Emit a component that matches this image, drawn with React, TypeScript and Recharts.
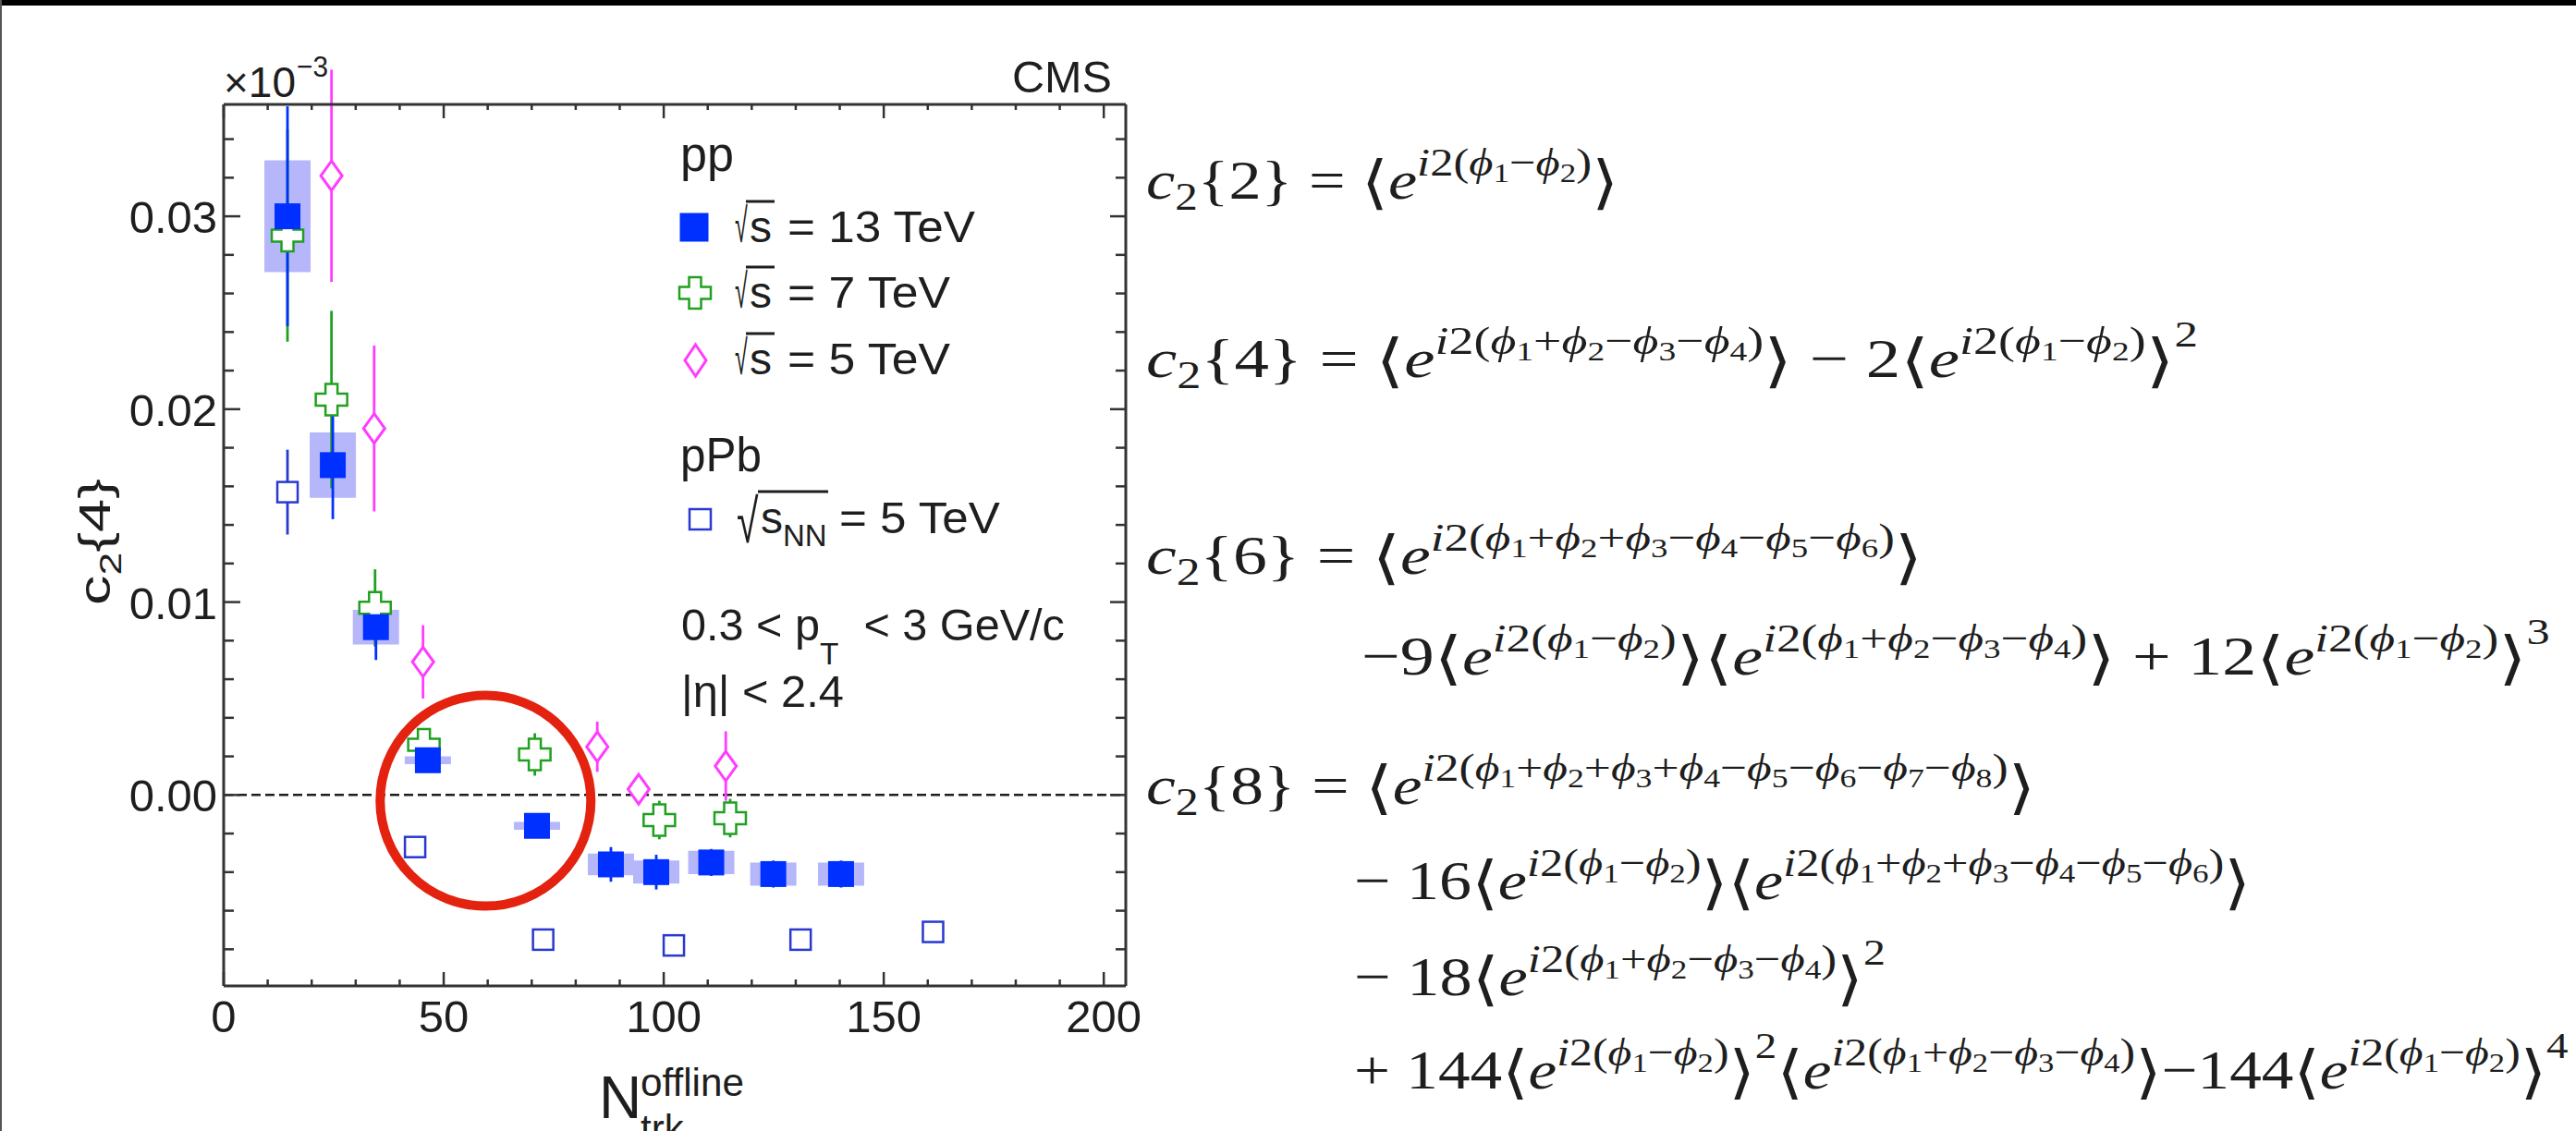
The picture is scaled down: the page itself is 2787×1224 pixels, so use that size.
import { useLayoutEffect, useRef, useState } from "react";
import type { ReactNode } from "react";
import {
  ErrorBar,
  ReferenceArea,
  ReferenceDot,
  ReferenceLine,
  Scatter,
  ScatterChart,
  XAxis,
  YAxis,
} from "recharts";

// pp, sqrt(s) = 13 TeV: filled squares, statistical bars and systematic boxes
const pp13X = [14.5, 24.8, 34.6, 46.4, 71.2, 88.0, 98.3, 110.8, 124.9, 140.3];
const pp13Y = [0.03, 0.0171, 0.0087, 0.0018, -0.0016, -0.0036, -0.004, -0.0035, -0.0041, -0.0041];
const pp13Stat = [0.0057, 0.0028, 0.0017, 0.0004, 0.0003, 0.0009, 0.0009, 0.0007, 0.0007, 0.0007];
const pp13Sys = [0.0029, 0.0017, 0.0009, 0.0002, 0.0002, 0.00056, 0.0006, 0.0006, 0.0006, 0.0006];

// pp, sqrt(s) = 7 TeV: open crosses
const pp7X = [14.5, 24.5, 34.4, 45.5, 70.7, 99.0, 115.1];
const pp7Y = [0.029, 0.0205, 0.0097, 0.0026, 0.0021, -0.0013, -0.0012];
const pp7Stat = [0.0055, 0.0046, 0.002, 0.0006, 0.0011, 0.001, 0.001];

// pp, sqrt(s) = 5 TeV: open diamonds
const pp5X = [24.5, 34.2, 45.3, 84.9, 94.3, 114.1];
const pp5Y = [0.0321, 0.019, 0.0069, 0.0025, 0.0003, 0.0015];
const pp5Stat = [0.0055, 0.0043, 0.0019, 0.0013, 0.0006, 0.0018];

// pPb, sqrt(s_NN) = 5 TeV: open squares
const pPbX = [14.5, 43.5, 72.6, 102.3, 131.1, 161.2];
const pPbY = [0.0157, -0.0027, -0.0075, -0.0078, -0.0075, -0.0071];
const pPbStat = [0.0022, 0.0005, 0.0002, 0.0002, 0.0002, 0.0002];

const xMajorTicks = [0, 50, 100, 150, 200];
const xMinorTicks = [10, 20, 30, 40, 60, 70, 80, 90, 110, 120, 130, 140, 160, 170, 180, 190];
const yMajorTicks = [0, 0.01, 0.02, 0.03];
const yMinorTicks = [
  -0.008, -0.006, -0.004, -0.002, 0.002, 0.004, 0.006, 0.008, 0.012, 0.014, 0.016, 0.018,
  0.022, 0.024, 0.026, 0.028, 0.032, 0.034,
];
const xDomain: [number, number] = [0, 205];
const yDomain: [number, number] = [-0.0099, 0.0358];

// highlighted region (red ring) centre, in data units
const ringX = 59.5;
const ringY = -0.0003;

const pp13 = pp13X.map((x, i) => ({ x, y: pp13Y[i], err: pp13Stat[i], sys: pp13Sys[i] }));
const pp7 = pp7X.map((x, i) => ({ x, y: pp7Y[i], err: pp7Stat[i] }));
const pp5 = pp5X.map((x, i) => ({ x, y: pp5Y[i], err: pp5Stat[i] }));
const pPb = pPbX.map((x, i) => ({ x, y: pPbY[i], err: pPbStat[i] }));

const SANS = "'Liberation Sans', Arial, sans-serif";
const SERIF = "'Liberation Serif', 'Times New Roman', serif";
const INK = "#1e1e1e";
const FRAME = "#333";
const BLUE = "#0030ff";
const BOX = "#b6b6fa";
const GREEN = "#20a020";
const MAGENTA = "#ff3cff";
const PPB = "#2838d0";
const RED = "#e3220f";
const BOX_HALF = 5.25; // half width of a systematic box, in N_trk units

function crossPath(cx: number, cy: number, h: number, a: number) {
  return `M${cx - a},${cy - h}H${cx + a}V${cy - a}H${cx + h}V${cy + a}H${cx + a}V${cy + h}H${cx - a}V${cy + a}H${cx - h}V${cy - a}H${cx - a}Z`;
}

const FilledSquare = (p: any) => <rect x={p.cx - 14} y={p.cy - 14} width={28} height={28} fill={BLUE} />;
const OpenCross = (p: any) => (
  <path d={crossPath(p.cx, p.cy, 17, 6.5)} fill="#fff" stroke={GREEN} strokeWidth={2.5} />
);
const OpenDiamond = (p: any) => (
  <path
    d={`M${p.cx},${p.cy - 16}L${p.cx + 11.5},${p.cy}L${p.cx},${p.cy + 16}L${p.cx - 11.5},${p.cy}Z`}
    fill="#fff"
    stroke={MAGENTA}
    strokeWidth={3}
  />
);
const OpenSquare = (p: any) => (
  <rect x={p.cx - 11} y={p.cy - 11} width={22} height={22} fill="#fff" stroke={PPB} strokeWidth={2.5} />
);

const tickFont = { fontSize: 49, fontFamily: SANS, fill: INK };

/** ROOT-style inward ticks: long for majors (with labels on bottom/left), short for minors. */
function BottomTick(p: any) {
  const major = xMajorTicks.includes(p.payload.value);
  return (
    <g>
      <line x1={p.x} x2={p.x} y1={p.y} y2={p.y - (major ? 15 : 7)} stroke={FRAME} strokeWidth={2.5} />
      {major && (
        <text x={p.x} y={p.y + 50} textAnchor="middle" {...tickFont}>
          {p.payload.value}
        </text>
      )}
    </g>
  );
}
function TopTick(p: any) {
  const major = xMajorTicks.includes(p.payload.value);
  return <line x1={p.x} x2={p.x} y1={p.y} y2={p.y + (major ? 15 : 6)} stroke={FRAME} strokeWidth={2.5} />;
}
function LeftTick(p: any) {
  const major = yMajorTicks.includes(p.payload.value);
  return (
    <g>
      <line x1={p.x} x2={p.x + (major ? 18 : 11)} y1={p.y} y2={p.y} stroke={FRAME} strokeWidth={2.5} />
      {major && (
        <text x={p.x - 7} y={p.y + 18} textAnchor="end" {...tickFont}>
          {p.payload.value.toFixed(2)}
        </text>
      )}
    </g>
  );
}
function RightTick(p: any) {
  const major = yMajorTicks.includes(p.payload.value);
  return <line x1={p.x} x2={p.x - (major ? 17 : 11)} y1={p.y} y2={p.y} stroke={FRAME} strokeWidth={2.5} />;
}

/** SVG text whose left edge sits at x and is stretched to a measured width. */
function FitText(props: {
  x: number;
  y: number;
  width?: number;
  size: number;
  family?: string;
  children: ReactNode;
}) {
  const { x, y, width, size, family = SANS, children } = props;
  const ref = useRef<SVGTextElement>(null);
  const [k, setK] = useState(1);
  useLayoutEffect(() => {
    if (!width || !ref.current) return;
    const w = ref.current.getBBox().width;
    if (w > 0) setK(width / w);
  }, [width]);
  return (
    <text
      ref={ref}
      x={x}
      y={y}
      fontSize={size}
      fontFamily={family}
      fill={INK}
      style={{ whiteSpace: "pre" }}
      transform={k === 1 ? undefined : `translate(${x} 0) scale(${k} 1) translate(${-x} 0)`}
    >
      {children}
    </text>
  );
}

// ---- cumulant formulas, written as runs of text at a few script levels ----
type Lv = "b" | "sub" | "e" | "ei" | "p" | "br";
type Seg = [string, Lv, boolean?];
const LV: Record<Lv, { dy: number; s: number }> = {
  b: { dy: 0, s: 1 },
  sub: { dy: 0.2, s: 0.7 },
  e: { dy: -0.42, s: 0.72 },
  ei: { dy: -0.3, s: 0.5 },
  p: { dy: -0.55, s: 0.68 },
  br: { dy: 0.06, s: 1.05 },
};
const EQ = 60;

function phase(spec: string): Seg[] {
  const out: Seg[] = [["i", "e", true], ["2(", "e"]];
  for (const ch of spec) {
    if (ch === "+") out.push(["+", "e"]);
    else if (ch === "-") out.push(["−", "e"]);
    else out.push(["ϕ", "e", true], [ch, "ei"]);
  }
  out.push([")", "e"]);
  return out;
}
const avg = (spec: string): Seg[] => [["⟨", "br"], ["e", "b", true], ...phase(spec), ["⟩", "br"]];
const cn = (n: string): Seg[] => [["c", "b", true], ["2", "sub"], [`{${n}} = `, "b"]];

const formulas: { x: number; y: number; w: number; segs: Seg[] }[] = [
  { x: 1240, y: 215, w: 511, segs: [...cn("2"), ...avg("1-2")] },
  {
    x: 1240,
    y: 408,
    w: 1138,
    segs: [...cn("4"), ...avg("1+2-3-4"), [" − 2", "b"], ...avg("1-2"), ["2", "p"]],
  },
  { x: 1240, y: 621, w: 840, segs: [...cn("6"), ...avg("1+2+3-4-5-6")] },
  {
    x: 1473,
    y: 730,
    w: 1286,
    segs: [["−9", "b"], ...avg("1-2"), ...avg("1+2-3-4"), [" + 12", "b"], ...avg("1-2"), ["3", "p"]],
  },
  { x: 1240, y: 870, w: 962, segs: [...cn("8"), ...avg("1+2+3+4-5-6-7-8")] },
  { x: 1465, y: 973, w: 970, segs: [["− 16", "b"], ...avg("1-2"), ...avg("1+2+3-4-5-6")] },
  { x: 1465, y: 1077, w: 575, segs: [["− 18", "b"], ...avg("1+2-3-4"), ["2", "p"]] },
  {
    x: 1465,
    y: 1178,
    w: 1314,
    segs: [
      ["+ 144", "b"],
      ...avg("1-2"),
      ["2", "p"],
      ...avg("1+2-3-4"),
      ["−144", "b"],
      ...avg("1-2"),
      ["4", "p"],
    ],
  },
];

function Formula({ x, y, w, segs }: { x: number; y: number; w: number; segs: Seg[] }) {
  let prev = 0;
  return (
    <FitText x={x} y={y} width={w} size={EQ} family={SERIF}>
      {segs.map(([t, lv, it], i) => {
        const L = LV[lv];
        const dy = (L.dy - prev) * EQ;
        prev = L.dy;
        return (
          <tspan
            key={i}
            dy={dy}
            fontSize={L.s * EQ}
            fontStyle={it ? "italic" : "normal"}
            fontFamily={lv === "br" ? "'DejaVu Sans'" : undefined}
          >
            {t}
          </tspan>
        );
      })}
    </FitText>
  );
}

/** "√s = … TeV" legend entry text: narrow radical, overlined s, then the energy. */
function RootS({ y, label, width }: { y: number; label: string; width: number }) {
  return (
    <g>
      <FitText x={795} y={y} size={52} width={14}>
        √
      </FitText>
      <text x={811} y={y} fontSize={48} fontFamily={SANS} fill={INK}>
        s
      </text>
      <line x1={807} x2={838} y1={y - 44} y2={y - 44} stroke={INK} strokeWidth={3} />
      <FitText x={852} y={y} size={48} width={width}>
        {label}
      </FitText>
    </g>
  );
}

function Overlay() {
  return (
    <svg
      width={2787}
      height={1224}
      style={{ position: "absolute", left: 0, top: 0, pointerEvents: "none" }}
    >
      {/* exponent note and experiment tag */}
      <FitText x={242} y={105} size={46} width={78}>
        ×10
      </FitText>
      <FitText x={321} y={83} size={32} width={34}>
        −3
      </FitText>
      <FitText x={1095} y={100} size={48} width={108}>
        CMS
      </FitText>

      {/* legend */}
      <FitText x={736} y={185} size={52} width={58}>
        pp
      </FitText>
      <rect x={735.5} y={230.5} width={31} height={31} fill={BLUE} />
      <RootS y={262} label="= 13 TeV" width={203} />

      <path d={crossPath(752, 317, 17, 6.5)} fill="#fff" stroke={GREEN} strokeWidth={2.5} />
      <RootS y={333} label="= 7 TeV" width={176} />

      <path d="M752.5,373L764,390L752.5,407L741,390Z" fill="#fff" stroke={MAGENTA} strokeWidth={3} />
      <RootS y={405} label="= 5 TeV" width={176} />

      <FitText x={736} y={510} size={52} width={88}>
        pPb
      </FitText>
      <rect x={746} y={551} width={23} height={22} fill="#fff" stroke={PPB} strokeWidth={2.5} />
      <FitText x={797} y={587} size={66} width={24}>
        √
      </FitText>
      <line x1={820} x2={896} y1={532} y2={532} stroke={INK} strokeWidth={3} />
      <text x={823} y={577} fontSize={48} fontFamily={SANS} fill={INK}>
        s<tspan dy={14} fontSize={33}>NN</tspan>
      </text>
      <FitText x={908} y={577} size={48} width={174}>
        = 5 TeV
      </FitText>

      <FitText x={737} y={693} size={48} width={415}>
        0.3 {"<"} p
        <tspan dy={26} fontSize={33}>T</tspan>
        <tspan dy={-26}>{"  < 3 GeV/c"}</tspan>
      </FitText>
      <FitText x={737} y={765} size={48} width={176}>
        |η| {"<"} 2.4
      </FitText>

      {/* axis titles */}
      <g transform="translate(119 587) rotate(-90)">
        <FitText x={-68} y={0} size={48} width={137}>
          c<tspan dy={12} fontSize={33}>2</tspan>
          <tspan dy={-12}>{"{4}"}</tspan>
        </FitText>
      </g>
      <text x={648} y={1210} fontSize={64} fontFamily={SANS} fill={INK}>N</text>
      <FitText x={693} y={1186} size={42} width={112}>
        offline
      </FitText>
      <text x={693} y={1236} fontSize={42} fontFamily={SANS} fill={INK}>trk</text>

      {formulas.map((f, i) => (
        <Formula key={i} {...f} />
      ))}
    </svg>
  );
}

export default function App() {
  return (
    <div
      style={{
        position: "relative",
        width: 2787,
        height: 1224,
        background: "#fff",
        overflow: "hidden",
        fontFamily: SANS,
      }}
    >
      <style>{"body{margin:0}"}</style>
      <div style={{ position: "absolute", left: 0, top: 0 }}>
        <ScatterChart width={1250} height={1224} margin={{ top: 0, right: 0, bottom: 0, left: 0 }}>
          <XAxis
            xAxisId="b"
            type="number"
            dataKey="x"
            orientation="bottom"
            height={157}
            domain={xDomain}
            allowDataOverflow
            ticks={[...xMajorTicks, ...xMinorTicks]}
            interval={0}
            tickSize={0}
            tickMargin={0}
            tickLine={false}
            tick={BottomTick}
            axisLine={{ stroke: FRAME, strokeWidth: 3 }}
          />
          <XAxis
            xAxisId="t"
            type="number"
            dataKey="x"
            orientation="top"
            height={113}
            domain={xDomain}
            allowDataOverflow
            ticks={[...xMajorTicks, ...xMinorTicks]}
            interval={0}
            tickSize={0}
            tickMargin={0}
            tickLine={false}
            tick={TopTick}
            axisLine={{ stroke: FRAME, strokeWidth: 3 }}
          />
          <YAxis
            yAxisId="l"
            type="number"
            dataKey="y"
            orientation="left"
            width={242}
            domain={yDomain}
            allowDataOverflow
            ticks={[...yMajorTicks, ...yMinorTicks]}
            interval={0}
            tickSize={0}
            tickMargin={0}
            tickLine={false}
            tick={LeftTick}
            axisLine={{ stroke: FRAME, strokeWidth: 3 }}
          />
          <YAxis
            yAxisId="r"
            type="number"
            dataKey="y"
            orientation="right"
            width={32}
            domain={yDomain}
            allowDataOverflow
            ticks={[...yMajorTicks, ...yMinorTicks]}
            interval={0}
            tickSize={0}
            tickMargin={0}
            tickLine={false}
            tick={RightTick}
            axisLine={{ stroke: FRAME, strokeWidth: 3 }}
          />

          {pp13.map((d) => (
            <ReferenceArea
              key={`sys-${d.x}`}
              xAxisId="b"
              yAxisId="l"
              x1={d.x - BOX_HALF}
              x2={d.x + BOX_HALF}
              y1={d.y - d.sys}
              y2={d.y + d.sys}
              fill={BOX}
              fillOpacity={1}
              stroke="none"
            />
          ))}
          <ReferenceLine
            xAxisId="b"
            yAxisId="l"
            y={0}
            stroke={INK}
            strokeWidth={2.5}
            strokeDasharray="10 5"
          />

          <Scatter data={pPb} xAxisId="b" yAxisId="l" shape={OpenSquare} isAnimationActive={false}>
            <ErrorBar dataKey="err" direction="y" width={0} stroke={PPB} strokeWidth={2.8} isAnimationActive={false} />
          </Scatter>
          <Scatter data={pp5} xAxisId="b" yAxisId="l" shape={OpenDiamond} isAnimationActive={false}>
            <ErrorBar dataKey="err" direction="y" width={0} stroke={MAGENTA} strokeWidth={2.8} isAnimationActive={false} />
          </Scatter>
          <Scatter data={pp7} xAxisId="b" yAxisId="l" shape={OpenCross} isAnimationActive={false}>
            <ErrorBar dataKey="err" direction="y" width={0} stroke={GREEN} strokeWidth={2.8} isAnimationActive={false} />
          </Scatter>
          <Scatter data={pp13} xAxisId="b" yAxisId="l" shape={FilledSquare} isAnimationActive={false}>
            <ErrorBar dataKey="err" direction="y" width={0} stroke={BLUE} strokeWidth={2.8} isAnimationActive={false} />
          </Scatter>

          <ReferenceDot
            xAxisId="b"
            yAxisId="l"
            x={ringX}
            y={ringY}
            r={114}
            fill="none"
            stroke={RED}
            strokeWidth={10}
          />
        </ScatterChart>
      </div>
      <Overlay />
      <div style={{ position: "absolute", left: 0, top: 0, width: 2787, height: 6, background: "#000" }} />
      <div style={{ position: "absolute", left: 0, top: 0, width: 2, height: 1224, background: "#555" }} />
    </div>
  );
}
